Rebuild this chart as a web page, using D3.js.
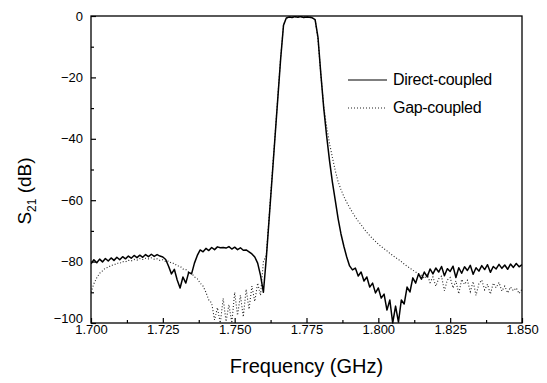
<!DOCTYPE html>
<html lang="en">
<head>
    <meta charset="UTF-8">
    <title>S21 response</title>
    <script src="https://d3js.org/d3.v7.min.js"></script>
    <style>
        body {margin: 0; background: white;}
        text {font-family: "Liberation Sans", Arial, Helvetica, sans-serif; fill: black;}
    </style>
</head>
<body>
<script>
    const width = 547;
    const height = 383;

    // sampled at 1 MHz steps from 1.700 GHz
    const fStart = 1.700;
    const fStep = 0.001;

    const directCoupled = [
        -80.7, -79.4, -80.4, -79.2, -80.1, -79.0, -79.8, -78.8, -79.6, -78.6,
        -79.4, -78.4, -79.1, -78.2, -78.9, -78.0, -78.7, -77.9, -78.6, -77.7,
        -78.4, -77.6, -78.3, -77.7, -78.2, -78.5, -79.3, -81.5, -84.0, -82.5,
        -86.0, -88.6, -85.0, -87.0, -83.5, -84.0, -80.5, -78.0, -76.2, -76.8,
        -75.7, -76.4, -75.4, -76.1, -75.2, -75.5, -75.4, -75.6, -75.1, -75.9,
        -75.3, -76.1, -75.5, -76.3, -76.2, -76.8, -77.5, -78.5, -80.5, -84.5,
        -90.0, -79.0, -66.0, -53.0, -40.0, -27.0, -14.0, -3.0, -0.6, -0.3,
        -0.5, -0.2, -0.4, -0.2, -0.5, -0.3, -0.4, -0.6, -1.2, -7.0,
        -19.0, -30.0, -39.0, -47.0, -54.0, -60.0, -66.0, -71.0, -75.0, -78.5,
        -81.4, -82.7, -82.1, -84.7, -83.4, -86.3, -85.0, -88.3, -87.0, -90.2,
        -88.6, -91.9, -90.6, -95.8, -92.5, -100, -94.5, -99.7, -92.5, -93.8,
        -88.3, -89.9, -85.3, -87.0, -84.0, -85.7, -83.4, -85.0, -82.4, -84.0,
        -82.1, -83.4, -81.6, -84.6, -82.3, -83.2, -81.5, -85.2, -82.0, -83.8,
        -81.7, -82.9, -81.2, -84.1, -82.0, -83.1, -81.3, -82.6, -81.0, -83.5,
        -81.6, -82.4, -80.9, -82.2, -81.1, -82.5, -80.8, -81.9, -80.6, -81.7,
        -81.0
    ];

    const gapCoupled = [
        -90.0, -87.2, -85.3, -83.8, -83.0, -82.1, -81.9, -81.2, -81.1, -80.5,
        -80.6, -80.0, -80.1, -79.6, -79.8, -79.3, -79.5, -79.0, -79.3, -78.9,
        -79.1, -78.8, -79.2, -79.1, -79.6, -79.4, -80.0, -79.8, -80.5, -80.6,
        -81.4, -81.5, -82.4, -82.6, -83.5, -83.8, -85.0, -85.6, -87.0, -88.0,
        -90.0, -92.5, -93.5, -99.0, -95.0, -100, -92.0, -99.5, -94.0, -100,
        -90.0, -97.5, -91.0, -98.0, -89.0, -95.5, -88.0, -93.0, -87.0, -91.0,
        -80.0, -78.0, -65.5, -52.5, -39.5, -26.5, -13.5, -2.8, -0.8, -0.4,
        -0.3, -0.4, -0.2, -0.3, -0.4, -0.2, -0.3, -0.5, -1.4, -7.5,
        -19.0, -29.5, -36.0, -41.5, -46.0, -50.3, -54.0, -56.5, -58.8, -60.7,
        -62.4, -64.0, -65.5, -66.8, -68.0, -69.3, -70.5, -71.5, -72.5, -73.4,
        -74.3, -75.1, -75.8, -76.5, -77.3, -78.0, -78.7, -79.3, -80.0, -80.8,
        -81.5, -82.1, -82.8, -83.4, -83.9, -84.5, -85.5, -84.2, -86.8, -85.0,
        -88.0, -85.6, -84.8, -89.5, -86.0, -85.2, -88.6, -86.3, -90.5, -85.8,
        -87.4, -86.1, -89.8, -86.5, -91.0, -87.2, -86.0, -89.2, -87.4, -90.6,
        -87.0, -88.5, -86.8, -89.6, -88.0, -90.2, -88.3, -89.5, -88.6, -90.4,
        -89.0
    ];

    const xTicks = [1.700, 1.725, 1.750, 1.775, 1.800, 1.825, 1.850];
    const yTicks = [0, -20, -40, -60, -80, -100];
    const legendLabels = ["Direct-coupled", "Gap-coupled"];

    const margin = {top: 16, right: 25, bottom: 60, left: 91};

    const svg = d3.select("body").append("svg")
            .attr("width", width).attr("height", height);

    const x = d3.scaleLinear()
            .domain([1.700, 1.850])
            .range([margin.left, width - margin.right]);

    const y = d3.scaleLinear()
            .domain([-100, 0])
            .range([height - margin.bottom, margin.top]);

    const freq = directCoupled.map((d, i) => fStart + i * fStep);

    // minor ticks halfway between the labelled ones
    const xMinor = d3.range(xTicks.length - 1).map(i => (xTicks[i] + xTicks[i + 1]) / 2);
    const yMinor = d3.range(yTicks.length - 1).map(i => (yTicks[i] + yTicks[i + 1]) / 2);

    svg.append("clipPath").attr("id", "plotClip")
            .append("rect")
            .attr("x", x.range()[0]).attr("y", y.range()[1])
            .attr("width", x.range()[1] - x.range()[0])
            .attr("height", y.range()[0] - y.range()[1] + 1);

    const line = d3.line()
            .x((d, i) => x(freq[i]))
            .y(d => y(d));

    const plot = svg.append("g").attr("clip-path", "url(#plotClip)");

    plot.append("path")
            .datum(gapCoupled)
            .attr("d", line)
            .style("fill", "none")
            .style("stroke", "#222")
            .style("stroke-width", 1.1)
            .style("stroke-dasharray", "1,2");

    plot.append("path")
            .datum(directCoupled)
            .attr("d", line)
            .style("fill", "none")
            .style("stroke", "black")
            .style("stroke-width", 1.5)
            .style("stroke-linejoin", "round");

    // axes, ticks pointing inside
    svg.append("g")
            .attr("transform", "translate(0," + y.range()[0] + ")")
            .call(d3.axisBottom(x).tickValues(xTicks).tickFormat(d3.format(".3f"))
                    .tickSize(-5).tickPadding(2));

    svg.append("g")
            .attr("transform", "translate(0," + y.range()[0] + ")")
            .call(d3.axisBottom(x).tickValues(xMinor).tickFormat("").tickSize(-3));

    const yAxis = svg.append("g")
            .attr("transform", "translate(" + x.range()[0] + ",0)")
            .call(d3.axisLeft(y).tickValues(yTicks).tickFormat(d3.format("d"))
                    .tickSize(-5).tickPadding(8));

    // the bottom label sits a little higher so it clears 1.700
    yAxis.selectAll(".tick text")
            .filter(d => d === -100)
            .attr("y", -5);

    svg.append("g")
            .attr("transform", "translate(" + x.range()[0] + ",0)")
            .call(d3.axisLeft(y).tickValues(yMinor).tickFormat("").tickSize(-3));

    svg.selectAll(".domain").remove();
    svg.selectAll(".tick line").style("stroke", "black").style("stroke-width", 1.2);
    svg.selectAll(".tick text")
            .style("font-size", "13px")
            .style("font-family", "'Liberation Sans', Arial, sans-serif");

    svg.append("rect")
            .attr("x", x.range()[0]).attr("y", y.range()[1])
            .attr("width", x.range()[1] - x.range()[0])
            .attr("height", y.range()[0] - y.range()[1])
            .style("fill", "none")
            .style("stroke", "black")
            .style("stroke-width", 1.3);

    // axis titles
    svg.append("text")
            .attr("x", (x.range()[0] + x.range()[1]) / 2)
            .attr("y", 373)
            .attr("text-anchor", "middle")
            .style("font-size", "20px")
            .text("Frequency (GHz)");

    const yTitle = svg.append("text")
            .attr("transform", "translate(31,191) rotate(-90)")
            .attr("text-anchor", "middle")
            .style("font-size", "19px");
    yTitle.append("tspan").text("S");
    yTitle.append("tspan").attr("dy", 5).style("font-size", "12px").text("21");
    yTitle.append("tspan").attr("dy", -5).text(" (dB)");

    // legend
    const legend = svg.append("g");
    const legendY = [80, 108];

    legend.selectAll("line")
            .data(legendLabels)
            .enter()
            .append("line")
            .attr("x1", 348).attr("x2", 387)
            .attr("y1", (d, i) => legendY[i]).attr("y2", (d, i) => legendY[i])
            .style("stroke", (d, i) => i === 0 ? "black" : "#222")
            .style("stroke-width", (d, i) => i === 0 ? 1.2 : 1.1)
            .style("stroke-dasharray", (d, i) => i === 0 ? null : "1,2");

    legend.selectAll("text")
            .data(legendLabels)
            .enter()
            .append("text")
            .attr("x", 393)
            .attr("y", (d, i) => legendY[i] + 4.5)
            .style("font-size", "16px")
            .style("letter-spacing", "-0.3px")
            .text(d => d);

</script>

</body>
</html>
